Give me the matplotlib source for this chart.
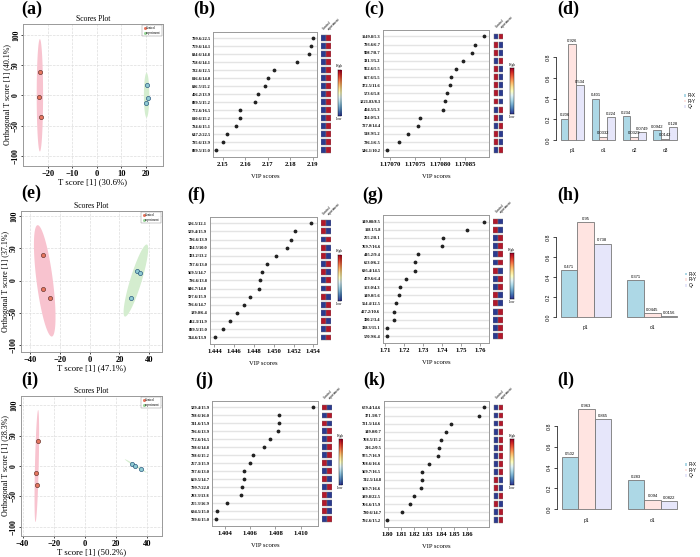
import matplotlib
matplotlib.use("Agg")
import matplotlib.pyplot as plt
import numpy as np
from matplotlib.patches import Rectangle
from matplotlib.lines import Line2D

plt.rcParams["font.family"] = ["Liberation Serif", "DejaVu Serif"]
plt.rcParams["font.weight"] = "bold"

W, H = 700, 557

# --- scores plots (a), (e), (i) ---
a_ctrl_x = [-23.0, -23.7, -22.9]
a_ctrl_y = [39.1, -2.8, -36.5]
a_exp_x = [20.5, 20.8, 20.1]
a_exp_y = [17.1, -5.0, -12.3]
a_ell_ctrl = [-23.2, 0.0, 0.0, 93.0, 1.3, 0.0]   # centre x, y, axis A (dx, dy), axis B (dx, dy)
a_ell_exp = [20.4, 0.0, 0.0, 37.0, 1.1, 0.0]

e_ctrl_x = [-31.5, -31.3, -26.6]
e_ctrl_y = [39.5, -13.2, -27.6]
e_exp_x = [32.0, 33.8, 27.8]
e_exp_y = [14.7, 12.1, -26.7]
e_ell_ctrl = [-30.1, -0.5, -4.7, 86.5, 5.5, 0.0]
e_ell_exp = [31.0, 0.0, 7.2, 56.0, 4.0, 0.0]

i_ctrl_x = [-30.0, -31.5, -30.7]
i_ctrl_y = [41.7, -11.5, -30.8]
i_exp_x = [30.0, 31.9, 35.9]
i_exp_y = [3.8, -0.4, -5.0]
i_ell_ctrl = [-30.85, 0.0, 0.85, 92.0, 1.2, 0.0]
i_ell_exp = [32.6, 0.0, 7.0, -11.0, 0.4, 1.0]

# --- VIP plots (b), (c), (f), (g), (j), (k) ---
# flip 0 = Control low / experiment high, 1 = Control high / experiment low
b_labels = ["799.6/22.5", "759.6/14.1", "834.6/14.8", "758.6/14.1", "732.6/12.5", "816.6/14.0",
            "836.5/15.2", "406.2/13.9", "899.5/15.2", "772.6/16.5", "810.6/15.2", "784.6/15.1",
            "647.2/22.5", "785.6/13.9", "899.5/15.0"]
b_vip = [2.1900, 2.1893, 2.1882, 2.1832, 2.1728, 2.1704, 2.1690, 2.1657, 2.1642, 2.1579,
         2.1576, 2.1559, 2.1521, 2.1504, 2.1470]
b_flip = [0, 0, 0, 0, 0, 0, 0, 0, 0, 0, 0, 0, 0, 0, 0]

c_labels = ["1149.8/5.3", "793.6/6.7", "908.7/8.7", "331.3/5.2", "952.6/5.5", "857.6/5.5",
            "372.5/11.6", "573.6/5.8", "1221.83/8.3", "404.5/5.3", "304.0/5.3", "727.0/14.4",
            "518.9/5.2", "736.1/6.5", "546.1/10.2"]
c_vip = [1.170888, 1.170870, 1.170865, 1.170847, 1.170833, 1.170823, 1.170820, 1.170815,
         1.170811, 1.170806, 1.170761, 1.170757, 1.170737, 1.170719, 1.170695]
c_flip = [0, 1, 1, 0, 1, 1, 1, 1, 1, 0, 1, 0, 1, 1, 0]

f_labels = ["526.5/12.1", "529.4/15.9", "786.6/13.9", "304.5/10.0", "303.2/13.2", "787.6/13.0",
            "569.5/14.7", "786.6/13.8", "846.7/14.0", "597.6/15.9", "786.6/14.7", "139.0/6.4",
            "482.3/11.9", "899.5/15.0", "744.6/13.9"]
f_vip = [1.45380, 1.45215, 1.45174, 1.45134, 1.45020, 1.44929, 1.44882, 1.44865, 1.44848,
         1.44764, 1.44703, 1.44632, 1.44562, 1.44488, 1.44403]
f_flip = [1, 1, 0, 1, 1, 0, 1, 0, 0, 1, 0, 0, 1, 0, 0]

g_labels = ["149.08/8.5", "118.1/5.8", "255.2/8.1", "769.7/16.6", "445.2/9.4", "653.0/6.2",
            "695.4/14.5", "479.6/6.4", "153.0/4.3", "149.0/5.6", "554.4/12.5", "427.2/10.6",
            "300.2/3.4", "338.3/15.1", "570.9/6.4"]
g_vip = [1.7621, 1.7533, 1.7406, 1.7399, 1.7274, 1.7258, 1.7258, 1.7211, 1.7179, 1.7170,
         1.7156, 1.7146, 1.7146, 1.7111, 1.7111]
g_flip = [1, 1, 0, 0, 0, 0, 1, 0, 0, 1, 1, 0, 0, 0, 0]

j_labels = ["529.4/15.9", "788.6/16.0", "741.6/15.9", "786.6/13.9", "772.6/16.5", "788.6/14.8",
            "788.6/15.2", "267.3/15.9", "787.6/13.0", "869.5/14.7", "799.7/22.8", "283.3/13.8",
            "255.3/16.9", "694.5/15.0", "789.6/15.0"]
j_vip = [1.41095, 1.40828, 1.40825, 1.40823, 1.40757, 1.40709, 1.40622, 1.40598, 1.40553,
         1.40553, 1.40532, 1.40524, 1.40418, 1.40339, 1.40329]
j_flip = [1, 0, 1, 0, 0, 0, 0, 1, 0, 1, 0, 1, 1, 1, 0]

k_labels = ["679.4/14.6", "371.3/0.7", "721.5/14.6", "149.0/0.7", "768.5/15.2", "216.2/0.5",
            "975.7/16.9", "768.6/16.6", "569.7/16.5", "742.5/14.8", "569.7/16.6", "399.8/22.5",
            "766.6/15.9", "780.6/14.7", "792.6/15.2"]
k_vip = [1.8726, 1.8688, 1.8475, 1.8442, 1.8405, 1.8387, 1.8382, 1.8314, 1.8256, 1.8256,
         1.8249, 1.8201, 1.8166, 1.8106, 1.7997]
k_flip = [0, 0, 0, 0, 0, 0, 0, 0, 0, 1, 1, 0, 1, 0, 0]

# --- model summary bars (d), (h), (l) ---
d_groups = ["p1", "o1", "o2", "o3"]
d_r2x = [0.206, 0.401, 0.234, 0.0942]
d_r2y = [0.926, 0.0332, 0.0329, 0.0142]
d_q2 = [0.534, 0.224, 0.0749, 0.128]

h_groups = ["p1", "o1"]
h_r2x = [0.471, 0.371]
h_r2y = [0.95, 0.0445]
h_q2 = [0.738, 0.0156]

l_groups = ["p1", "o1"]
l_r2x = [0.502, 0.283]
l_r2y = [0.963, 0.094]
l_q2 = [0.865, 0.0822]

BLUE = "#2B3A8F"
RED = "#B2182B"
BAR_COLS = ["#ADD8E6", "#FFE4E1", "#E6E6FA"]


def box(l, t, r, b):
    return [l / W, 1 - b / H, (r - l) / W, (b - t) / H]


fig = plt.figure(figsize=(7, 5.57), dpi=100)


def draw_ellipse(ax, p, color):
    c_x, c_y, a_x, a_y, b_x, b_y = p
    tt = np.linspace(0, 2 * np.pi, 200)
    ax.fill(c_x + a_x * np.cos(tt) + b_x * np.sin(tt),
            c_y + a_y * np.cos(tt) + b_y * np.sin(tt), color=color, lw=0, zorder=1)


def draw_scores(rect, xlim, ylim, xticks, cx, cy, ex, ey, ell_c, ell_e, xlab, ylab):
    ax = fig.add_axes(box(*rect))
    draw_ellipse(ax, ell_c, "#F8C3CF")
    draw_ellipse(ax, ell_e, "#D4EDCF")
    ax.scatter(cx, cy, s=9, color="#E8765F", edgecolor="#6B3A33", lw=0.5, zorder=3)
    ax.scatter(ex, ey, s=9, color="#8FCBD3", edgecolor="#2C5A80", lw=0.5, zorder=3)
    ax.set_xlim(xlim)
    ax.set_ylim(ylim)
    ax.set_xticks(xticks)
    ax.set_yticks([-100, -50, 0, 50, 100])
    ax.grid(True, color="#DDDDDD", lw=0.5, ls="--")
    ax.set_axisbelow(True)
    ax.tick_params(labelsize=6, length=1.5, width=0.5, pad=1.2)
    ax.tick_params(axis="y", labelsize=5.6, pad=0.6)
    plt.setp(ax.get_yticklabels(), rotation=90, va="center")
    for s in ax.spines.values():
        s.set_color("#999999")
        s.set_linewidth(0.7)
    ax.set_title("Scores Plot", fontsize=5.5, pad=2.5)
    ax.set_xlabel(xlab, fontsize=6.3, labelpad=0.5)
    ax.set_ylabel(ylab, fontsize=5.8, labelpad=0.0)
    handles = [Line2D([], [], marker="o", ls="", ms=1.2, color="#E8765F"),
               Line2D([], [], marker="o", ls="", ms=1.2, color="#9AD79A")]
    leg = ax.legend(handles, ["Control", "experiment"], loc="upper right", fontsize=2.3,
                    frameon=True, fancybox=False, borderpad=0.4, handletextpad=0.2,
                    handlelength=0.6, labelspacing=0.2, borderaxespad=0.3)
    leg.get_frame().set_linewidth(0.3)
    leg.get_frame().set_edgecolor("#666666")
    for t in leg.get_texts():
        t.set_fontweight("normal")


def draw_vip(rect, labels, vals, flips, xlim, xticks, fmt):
    l, t, r, b = rect
    n = len(vals)
    ys = np.arange(n, 0, -1)
    ax = fig.add_axes(box(l, t, r, b))
    for y in ys:
        ax.axhline(y, color="#E4E4E4", lw=1.0, zorder=0)
    ax.scatter(vals, ys, s=3, color="#222222", zorder=3)
    ax.set_xlim(xlim)
    ax.set_ylim(0.2, n + 0.8)
    ax.set_yticks(ys)
    ax.set_yticklabels(labels, fontsize=3.2)
    ax.tick_params(axis="y", length=0, pad=2)
    ax.set_xticks(xticks)
    ax.set_xticklabels([fmt.format(v) for v in xticks], fontsize=4.8)
    ax.tick_params(axis="x", length=2, width=0.5, pad=1.5, color="#777777")
    for s in ax.spines.values():
        s.set_color("#999999")
        s.set_linewidth(0.7)
    ax.set_xlabel("VIP scores", fontsize=4.8, labelpad=5)

    # control / experiment heat squares
    sq = fig.add_axes(box(r + 4, t, r + 14, b))
    sq.set_xlim(0, 2)
    sq.set_ylim(0.2, n + 0.8)
    sq.axis("off")
    for y, fl in zip(ys, flips):
        cols = [BLUE, RED] if fl == 0 else [RED, BLUE]
        for jj, col in enumerate(cols):
            sq.add_patch(Rectangle((jj + 0.04, y - 0.36), 0.92, 0.72, fc=col,
                                   ec="#777777", lw=0.3))
    for jj, name in enumerate(["Control", "experiment"]):
        sq.text(jj + 0.3, n + 0.9, name, rotation=45, ha="left", va="bottom",
                fontsize=2.5, fontweight="normal", clip_on=False)

    # colour key
    cb = fig.add_axes(box(r + 21, t + 38, r + 24.5, t + 84))
    cb.imshow(np.linspace(0, 1, 100)[:, None], cmap="RdYlBu_r", aspect="auto", origin="lower")
    cb.set_xticks([])
    cb.set_yticks([])
    for s in cb.spines.values():
        s.set_linewidth(0.3)
    cb.text(0.5, 1.03, "High", transform=cb.transAxes, ha="center", va="bottom",
            fontsize=2.5, fontweight="normal")
    cb.text(0.5, -0.03, "Low", transform=cb.transAxes, ha="center", va="top",
            fontsize=2.5, fontweight="normal")


def draw_bars(rect, xlim, groups, r2x, r2y, q2):
    ax = fig.add_axes(box(*rect))
    series = [r2x, r2y, q2]
    for j, vals in enumerate(series):
        centers = [1.5 + 4 * g + j for g in range(len(groups))]
        ax.bar(centers, vals, width=1, color=BAR_COLS[j], edgecolor="#777777", lw=0.6)
        for c, v in zip(centers, vals):
            ax.text(c, v + 0.012, str(v), ha="center", va="bottom", fontsize=3,
                    fontweight="normal", family="Liberation Sans")
    ax.set_xlim(xlim)
    ax.set_ylim(-0.04, 1.0)
    for side in ["top", "right", "bottom"]:
        ax.spines[side].set_visible(False)
    ax.spines["left"].set_bounds(0, 0.8)
    ax.spines["left"].set_linewidth(0.5)
    ax.set_yticks([0, 0.2, 0.4, 0.6, 0.8])
    ax.set_yticklabels(["0.0", "0.2", "0.4", "0.6", "0.8"], fontsize=3.8,
                       fontweight="normal", family="Liberation Sans", rotation=90, va="center")
    ax.tick_params(axis="y", length=2, width=0.5, pad=1.5)
    ax.set_xticks([2.5 + 4 * g for g in range(len(groups))])
    ax.set_xticklabels(groups, fontsize=3.5, fontweight="normal", family="Liberation Sans")
    ax.tick_params(axis="x", length=0, pad=3)
    handles = [Rectangle((0, 0), 1, 1, fc=c, ec="none") for c in BAR_COLS]
    leg = ax.legend(handles, ["R²X", "R²Y", "Q²"], loc="center left", bbox_to_anchor=(1.0, 0.4),
                    fontsize=3.3, frameon=False, handlelength=0.5, handleheight=0.5,
                    handletextpad=0.3, labelspacing=0.15, borderaxespad=0.2)
    for t in leg.get_texts():
        t.set_fontweight("normal")
        t.set_family("Liberation Sans")


draw_scores((23, 24, 163, 166), (-30.1, 27.1), (-117, 118), [-20, -10, 0, 10, 20],
            a_ctrl_x, a_ctrl_y, a_exp_x, a_exp_y, a_ell_ctrl, a_ell_exp,
            "T score [1] (30.6%)", "Orthogonal T score [1] (40.1%)")
draw_scores((21, 211, 162, 352), (-46, 48.5), (-111, 108), [-40, -20, 0, 20, 40],
            e_ctrl_x, e_ctrl_y, e_exp_x, e_exp_y, e_ell_ctrl, e_ell_exp,
            "T score [1] (47.1%)", "Orthogonal T score [1] (37.1%)")
draw_scores((21, 396, 162, 536), (-41, 49.4), (-115, 115), [-40, -20, 0, 20, 40],
            i_ctrl_x, i_ctrl_y, i_exp_x, i_exp_y, i_ell_ctrl, i_ell_exp,
            "T score [1] (50.2%)", "Orthogonal T score [1] (28.3%)")

draw_vip((213.3, 31.7, 316.7, 156.7), b_labels, b_vip, b_flip, (2.1459, 2.1918),
         [2.15, 2.16, 2.17, 2.18, 2.19], "{:.2f}")
draw_vip((383.3, 30, 489.3, 156.7), c_labels, c_vip, c_flip, (1.170687, 1.170899),
         [1.17070, 1.17075, 1.17080, 1.17085], "{:.5f}")
draw_vip((210, 216.7, 316.7, 344), f_labels, f_vip, f_flip, (1.44356, 1.45434),
         [1.444, 1.446, 1.448, 1.450, 1.452, 1.454], "{:.3f}")
draw_vip((383.3, 215, 489, 342.7), g_labels, g_vip, g_flip, (1.7089, 1.7648),
         [1.71, 1.72, 1.73, 1.74, 1.75, 1.76], "{:.2f}")
draw_vip((212.3, 401, 317.7, 525.7), j_labels, j_vip, j_flip, (1.4030, 1.41134),
         [1.404, 1.406, 1.408, 1.410], "{:.3f}")
draw_vip((384, 401, 489.3, 526.7), k_labels, k_vip, k_flip, (1.7972, 1.8766),
         [1.80, 1.81, 1.82, 1.83, 1.84, 1.85, 1.86], "{:.2f}")

draw_bars((556.1, 36.7, 681.3, 144.1), (0.4, 16.6), d_groups, d_r2x, d_r2y, d_q2)
draw_bars((556.0, 217.3, 682, 321.3), (0.72, 8.28), h_groups, h_r2x, h_r2y, h_q2)
draw_bars((557.0, 405.1, 682, 513.5), (0.72, 8.28), l_groups, l_r2x, l_r2y, l_q2)

# panel letters
panel_pos = [("(a)", 21, 9.5), ("(b)", 193, 9.5), ("(c)", 364, 9.5), ("(d)", 557, 9.5),
             ("(e)", 21, 193), ("(f)", 187, 195), ("(g)", 362, 195), ("(h)", 557, 195),
             ("(i)", 21, 380), ("(j)", 195, 380), ("(k)", 363, 380), ("(l)", 557, 380)]
for txt, px, py in panel_pos:
    fig.text(px / W, 1 - py / H, txt, fontsize=13, fontweight="bold", ha="left", va="center")

fig.savefig("out.png", dpi=100)
